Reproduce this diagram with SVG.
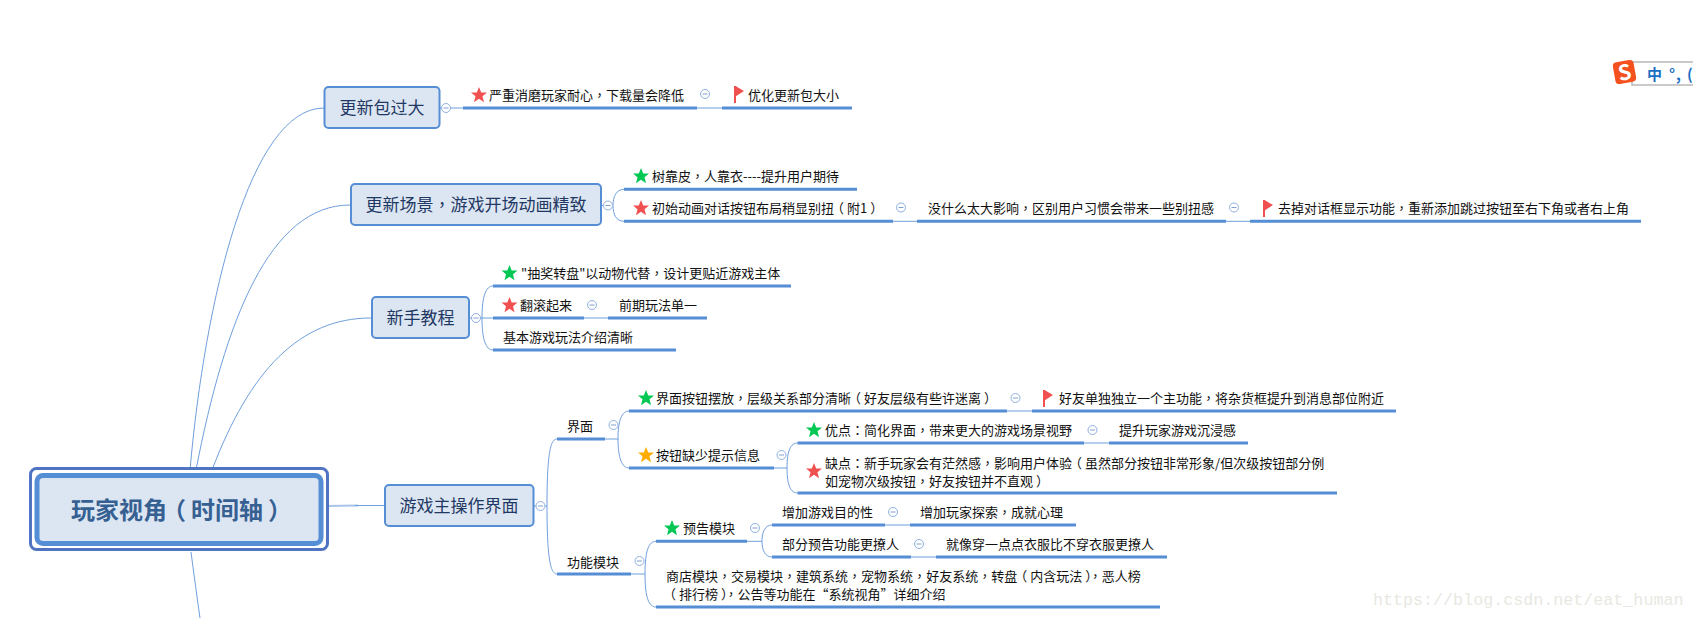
<svg xmlns="http://www.w3.org/2000/svg" width="1693" height="618" viewBox="0 0 1693 618">
<style>
text{font-family:"Noto Sans CJK SC","Liberation Sans",sans-serif;}
tspan.p{font-family:"Noto Sans CJK TC","Noto Sans CJK SC",sans-serif;}
.t{font-size:13px;fill:#111;}
.h{font-size:17px;fill:#1f3864;}
.box{fill:#dce6f2;stroke:#558ed5;stroke-width:2;}
.thick{stroke:#558ed5;stroke-width:3;fill:none;}
.thin{stroke:#6f9fdc;stroke-width:1;fill:none;}
.tg{fill:#fff;stroke:#8fb0e0;stroke-width:1;}
.tm{stroke:#7f9fd0;stroke-width:1;}
</style>
<defs>
<polygon id="star" points="0,-8 2.200,-2.600 8,-2.400 3.500,1.300 5,7.200 0,3.800 -5,7.200 -3.500,1.300 -8,-2.400 -2.200,-2.600"/>
<g id="flag"><rect x="-5" y="-8" width="2" height="17" fill="#f05050"/><polygon points="-3.500,-8 5,-3 -3.500,2.500" fill="#f05050"/></g>
<g id="tog"><circle class="tg" r="4.500"/><line class="tm" x1="-2.500" x2="2.500" y1="0" y2="0"/></g>
</defs>
<rect width="1693" height="618" fill="#fff"/>
<g id="connectors">
<path class="thin" d="M190 470C205 300 250 108 324 108"/>
<path class="thin" d="M196 470C225 320 270 205 350 205"/>
<path class="thin" d="M212 470C250 370 300 318 371 318"/>
<path class="thin" d="M191 552C194 575 197 597 200 618"/>
<path d="M326 506L358 505.500" stroke="#a9c4ea" stroke-width="2" fill="none"/>
<path class="thin" d="M355 505.500H385"/>
<path class="thin" d="M440 108H463M697 108H722"/>
<path class="thin" d="M601 205.500H612M624 189.300C616 189.300 613 197 613 205.500C613 214 616 221.300 624 221.300M893 221.300H917M1226 221.300H1250"/>
<path class="thin" d="M469 318H493M493 286C486 286 482 296 482 318C482 340 486 350 493 350M584 318H608"/>
<path class="thin" d="M533 506H547M557 439C551 439 547 450 547 506C547 562 551 574 557 574"/>
<path class="thin" d="M605 439H618M629 411C622 411 618 420 618 439C618 458 622 468 629 468"/>
<path class="thin" d="M1007 411H1032M774 468H787M797.500 443C791 443 787 450 787 468C787 486 791 493 797.500 493M1084 443H1109"/>
<path class="thin" d="M631 574H645M656 541.300C649 541.300 645 550 645 574C645 598 649 607 656 607"/>
<path class="thin" d="M747 541.300H762M772 525C765 525 762 532 762 541.300C762 550 765 557 772 557M885 525H910M911 557H936"/>
</g>
<g id="root">
<rect x="30.500" y="468.500" width="297" height="81" rx="6" fill="#fff" stroke="#4f74c2" stroke-width="3"/>
<rect x="37" y="475.500" width="284" height="68" rx="6" fill="#dce6f2" stroke="#558ed5" stroke-width="5"/>
<text x="71" y="519" font-size="24" font-weight="700" fill="#366092">玩家视角<tspan dx="-5">（</tspan><tspan dx="5">时间轴</tspan><tspan dx="5">）</tspan></text>
</g>
<g id="n1">
<rect class="box" x="324.500" y="87" width="115" height="41" rx="4"/>
<text class="h" x="382" y="114" text-anchor="middle">更新包过大</text>
<use href="#tog" x="446" y="108"/>
<path class="thick" d="M463 108H697"/>
<use href="#star" x="479" y="95" fill="#f05050"/>
<text class="t" x="489" y="100">严重消磨玩家耐心<tspan class="p">，</tspan>下载量会降低</text>
<use href="#tog" x="705" y="94"/>
<path class="thick" d="M722 108H852"/>
<use href="#flag" x="739" y="94"/>
<text class="t" x="748" y="100">优化更新包大小</text>
</g>
<g id="n2">
<rect class="box" x="351" y="184" width="250" height="41" rx="4"/>
<text class="h" x="476" y="211" text-anchor="middle">更新场景<tspan class="p">，</tspan>游戏开场动画精致</text>
<use href="#tog" x="608" y="205.500"/>
<path class="thick" d="M624 189.300H857"/>
<use href="#star" x="641" y="176" fill="#00c853"/>
<text class="t" x="652" y="181">树靠皮<tspan class="p">，</tspan>人靠衣----提升用户期待</text>
<path class="thick" d="M624 221.300H893"/>
<use href="#star" x="641" y="208" fill="#f05050"/>
<text class="t" x="652" y="213">初始动画对话按钮布局稍显别扭<tspan dx="-3">（</tspan><tspan dx="3">附1</tspan><tspan dx="3">）</tspan></text>
<use href="#tog" x="901" y="207.500"/>
<path class="thick" d="M917 221.300H1226"/>
<text class="t" x="928" y="213">没什么太大影响<tspan class="p">，</tspan>区别用户习惯会带来一些别扭感</text>
<use href="#tog" x="1234" y="207.500"/>
<path class="thick" d="M1250 221.300H1641"/>
<use href="#flag" x="1268" y="208"/>
<text class="t" x="1278" y="213">去掉对话框显示功能<tspan class="p">，</tspan>重新添加跳过按钮至右下角或者右上角</text>
</g>
<g id="n3">
<rect class="box" x="372" y="297" width="97" height="41" rx="4"/>
<text class="h" x="420.500" y="324" text-anchor="middle">新手教程</text>
<use href="#tog" x="476" y="318"/>
<path class="thick" d="M493 286H791"/>
<use href="#star" x="509.500" y="273" fill="#00c853"/>
<text class="t" x="521" y="278">"抽奖转盘"以动物代替<tspan class="p">，</tspan>设计更贴近游戏主体</text>
<path class="thick" d="M493 318H584"/>
<use href="#star" x="509.500" y="305" fill="#f05050"/>
<text class="t" x="520" y="310">翻滚起来</text>
<use href="#tog" x="592" y="305"/>
<path class="thick" d="M608 318H707"/>
<text class="t" x="619" y="310">前期玩法单一</text>
<path class="thick" d="M493 350H676"/>
<text class="t" x="503" y="342">基本游戏玩法介绍清晰</text>
</g>
<g id="n4">
<rect class="box" x="385" y="485" width="148.500" height="41" rx="4"/>
<text class="h" x="459" y="512" text-anchor="middle">游戏主操作界面</text>
<use href="#tog" x="540.500" y="506"/>
</g>
<g id="n4a">
<path class="thick" d="M557 439H605"/>
<text class="t" x="567" y="431">界面</text>
<use href="#tog" x="613.500" y="425"/>
<path class="thick" d="M629 411H1007"/>
<use href="#star" x="646" y="398" fill="#00c853"/>
<text class="t" x="656" y="403">界面按钮摆放<tspan class="p">，</tspan>层级关系部分清晰<tspan dx="-3">（</tspan><tspan dx="3">好友层级有些许迷离</tspan><tspan dx="3">）</tspan></text>
<use href="#tog" x="1015.500" y="398"/>
<path class="thick" d="M1032 411H1396"/>
<use href="#flag" x="1048" y="398"/>
<text class="t" x="1059" y="403">好友单独独立一个主功能<tspan class="p">，</tspan>将杂货框提升到消息部位附近</text>
<path class="thick" d="M629 468H774"/>
<use href="#star" x="646" y="455" fill="#ffab00"/>
<text class="t" x="656" y="460">按钮缺少提示信息</text>
<use href="#tog" x="781.500" y="455"/>
<path class="thick" d="M797.500 443H1084"/>
<use href="#star" x="814" y="430" fill="#00c853"/>
<text class="t" x="825" y="435">优点<tspan class="p">：</tspan>简化界面<tspan class="p">，</tspan>带来更大的游戏场景视野</text>
<use href="#tog" x="1092.500" y="430"/>
<path class="thick" d="M1109 443H1248"/>
<text class="t" x="1119" y="435">提升玩家游戏沉浸感</text>
<path class="thick" d="M797.500 493H1337"/>
<use href="#star" x="814" y="471" fill="#f05050"/>
<text class="t" x="825" y="468">缺点<tspan class="p">：</tspan>新手玩家会有茫然感<tspan class="p">，</tspan>影响用户体验<tspan dx="-3">（</tspan><tspan dx="3">虽然部分按钮非常形象/但次级按钮部分例</tspan></text>
<text class="t" x="825" y="486">如宠物次级按钮<tspan class="p">，</tspan>好友按钮并不直观<tspan dx="3">）</tspan></text>
</g>
<g id="n4b">
<path class="thick" d="M557 574H631"/>
<text class="t" x="567" y="567">功能模块</text>
<use href="#tog" x="639.500" y="561"/>
<path class="thick" d="M656 541.300H747"/>
<use href="#star" x="672" y="528" fill="#00c853"/>
<text class="t" x="683" y="533">预告模块</text>
<use href="#tog" x="755" y="528"/>
<path class="thick" d="M772 525H885"/>
<text class="t" x="782" y="517">增加游戏目的性</text>
<use href="#tog" x="893" y="512"/>
<path class="thick" d="M910 525H1076"/>
<text class="t" x="920" y="517">增加玩家探索<tspan class="p">，</tspan>成就心理</text>
<path class="thick" d="M772 557H911"/>
<text class="t" x="782" y="549">部分预告功能更撩人</text>
<use href="#tog" x="919" y="544"/>
<path class="thick" d="M936 557H1167"/>
<text class="t" x="946" y="549">就像穿一点点衣服比不穿衣服更撩人</text>
<path class="thick" d="M656 607H1160"/>
<text class="t" x="666" y="581">商店模块<tspan class="p">，</tspan>交易模块<tspan class="p">，</tspan>建筑系统<tspan class="p">，</tspan>宠物系统<tspan class="p">，</tspan>好友系统<tspan class="p">，</tspan>转盘<tspan dx="-3">（</tspan><tspan dx="3">内含玩法</tspan><tspan dx="3">）</tspan><tspan class="p" dx="-3">，</tspan>恶人榜</text>
<text class="t" x="666" y="599"><tspan dx="-3">（</tspan><tspan dx="3">排行榜</tspan><tspan dx="3">）</tspan><tspan class="p" dx="-3">，</tspan>公告等功能在“系统视角”详细介绍</text>
</g>
<g id="ime">
<rect x="1632" y="62" width="70" height="23" fill="#fff" stroke="#b8b8b8" stroke-width="1.500"/>
<g transform="rotate(-10 1624.500 72)">
<rect x="1614" y="61" width="21" height="22" rx="4" fill="#f4511e"/>
<text x="1624.500" y="80" text-anchor="middle" font-size="21" font-weight="700" fill="#fff">S</text>
</g>
<text x="1647" y="80" font-size="15" font-weight="700" fill="#1a6fc4">中<tspan x="1669">°</tspan><tspan x="1676">,</tspan><tspan x="1687">(</tspan></text>
</g>
<text x="1373" y="605" font-size="16.700" fill="#e8e8e2" style="font-family:'Liberation Mono',monospace">https://blog.csdn.net/eat_human</text>
</svg>
